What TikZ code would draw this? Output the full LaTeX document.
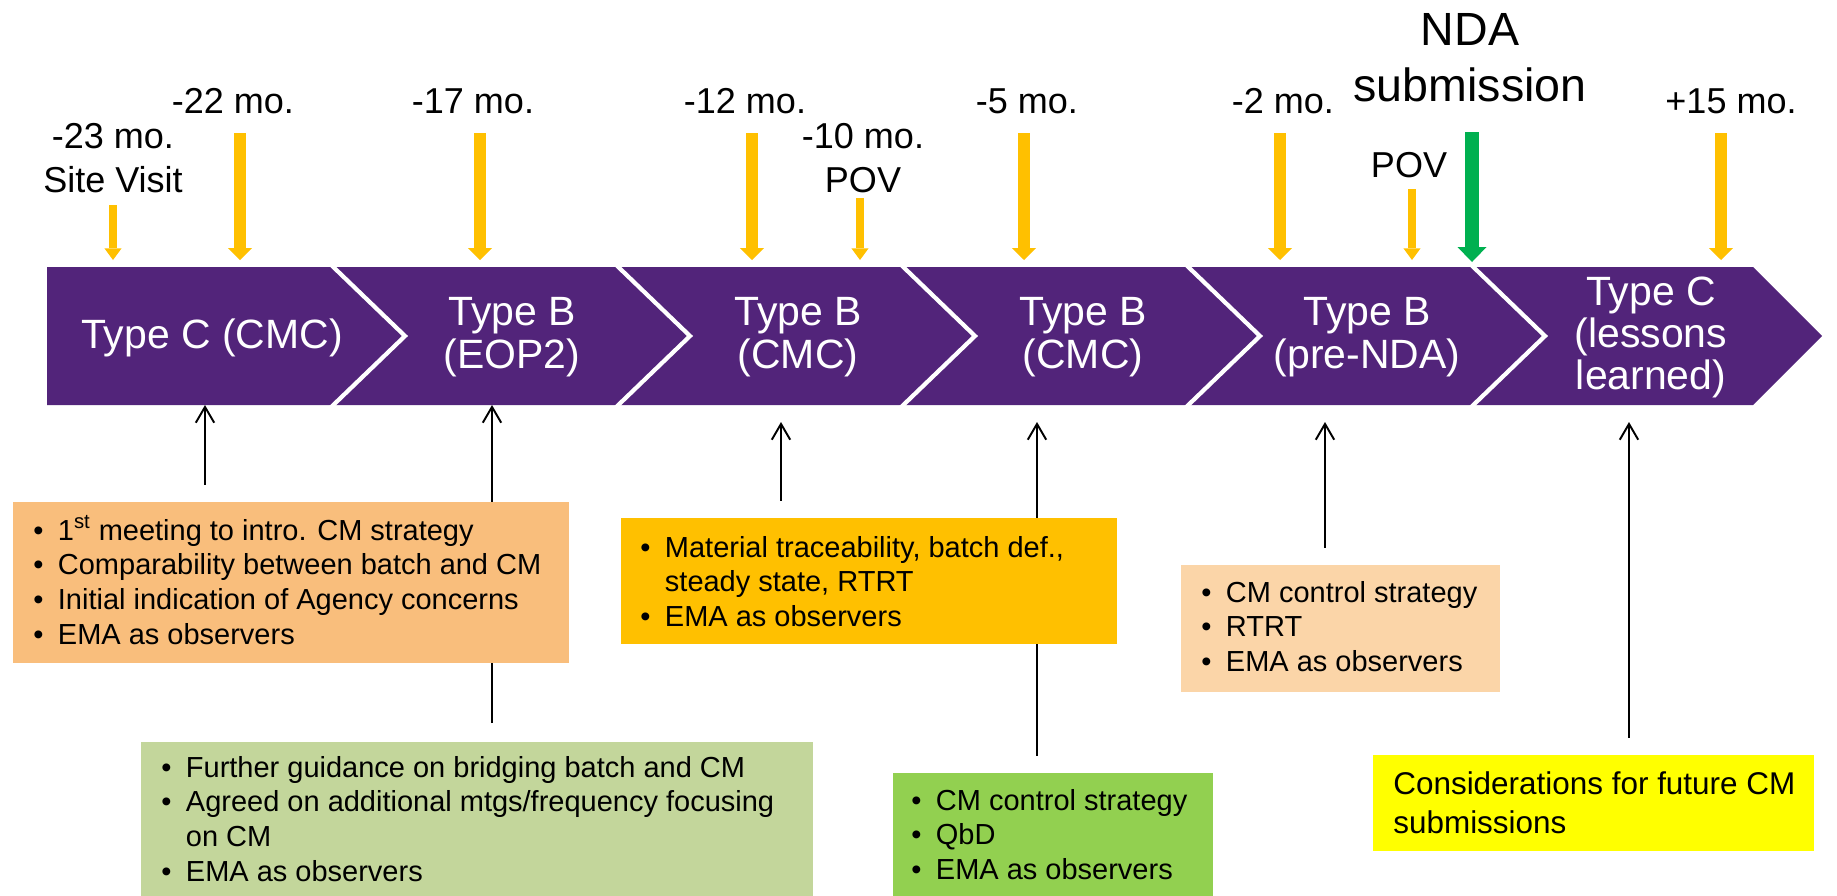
\documentclass[tikz,border=0pt]{standalone}
\usepackage{fontspec}
\setmainfont{Liberation Sans}
\usetikzlibrary{arrows.meta}

\definecolor{bandpurple}{RGB}{82,36,122}
\definecolor{markgold}{RGB}{255,192,0}
\definecolor{ndagreen}{RGB}{0,176,80}
\definecolor{boxorange}{RGB}{249,190,124}
\definecolor{boxolive}{RGB}{195,214,155}
\definecolor{boxgold}{RGB}{255,192,0}
\definecolor{boxgreen}{RGB}{146,208,80}
\definecolor{boxpeach}{RGB}{251,213,168}
\definecolor{boxyellow}{RGB}{255,255,0}

\newcommand\boxfont{\fontsize{16.5}{19.9}\selectfont}
\newcommand\bigboxfont{\fontsize{17.9}{22.2}\selectfont}
\newcommand\monthfont{\fontsize{20.5}{25.6}\selectfont}
\newcommand\segfont{\fontsize{23.3}{24.5}\selectfont}
\newcommand\ndafont{\fontsize{26.5}{32.4}\selectfont}
\newcommand\bl{\makebox[14pt][l]{\textbullet}}

\pgfdeclarelayer{bg}
\pgfsetlayers{bg,main}

\begin{document}
\begin{tikzpicture}[x=0.02cm, y=-0.02cm,
  tickbig/.style={draw=markgold, line width=6.8pt,
    -{Triangle[width=13.7pt,length=6.8pt,line width=0pt]}},
  ticksmall/.style={draw=markgold, line width=5pt,
    -{Triangle[width=9.7pt,length=6.6pt,line width=0pt]}},
  ticknda/.style={draw=ndagreen, line width=8pt,
    -{Triangle[width=16.5pt,length=8.5pt,line width=0pt]}},
  conn/.style={draw=black, line width=1.1pt,
    -{Straight Barb[width=10.5pt,length=9pt]}, shorten <=9.7pt},
  infobox/.style={anchor=north west, inner sep=0, outer sep=0, draw=none},
  boxtxt/.style={anchor=base west, inner sep=0, font=\boxfont},
  monthlbl/.style={anchor=base, inner sep=0, font=\monthfont},
  seglbl/.style={anchor=base, inner sep=0, text=white, font=\segfont},
  sepline/.style={draw=white, line width=2.4pt, line join=miter},
]
\useasboundingbox (0,0) rectangle (1837,896);

% ---- chevron band ----
\fill[bandpurple] (47,267) -- (1753,267) -- (1822,336) -- (1753,405) -- (47,405) -- cycle;
\begin{scope}
  \clip (47,267) rectangle (1822,405);
  \foreach \n in {333,618,903,1188,1473}
    \draw[sepline] (\n-8,259) -- (\n+72,336) -- (\n-8,413);
\end{scope}

% ---- meeting labels in the band ----
\node[seglbl] (s1) at (212,348) {Type C (CMC)};
\node[seglbl] (s2) at (512,325) {\begin{tabular}[t]{@{}c@{}}Type B\\(EOP2)\end{tabular}};
\node[seglbl] (s3) at (798,325) {\begin{tabular}[t]{@{}c@{}}Type B\\(CMC)\end{tabular}};
\node[seglbl] (s4) at (1083,325) {\begin{tabular}[t]{@{}c@{}}Type B\\(CMC)\end{tabular}};
\node[seglbl] (s5) at (1367,325) {\begin{tabular}[t]{@{}c@{}}Type B\\(pre-NDA)\end{tabular}};
\node[seglbl, font=\fontsize{23.3}{23.6}\selectfont] (s6) at (1651,305)
  {\begin{tabular}[t]{@{}c@{}}Type C\\(lessons\\learned)\end{tabular}};

% ---- time labels above the band ----
\node[monthlbl] (m23) at (113,148) {\begin{tabular}[t]{@{}c@{}}-23 mo.\\Site Visit\end{tabular}};
\node[monthlbl] (m22) at (233,113) {-22 mo.};
\node[monthlbl] (m17) at (473,113) {-17 mo.};
\node[monthlbl] (m12) at (745,113) {-12 mo.};
\node[monthlbl] (m10) at (863,148) {\begin{tabular}[t]{@{}c@{}}-10 mo.\\POV\end{tabular}};
\node[monthlbl] (m5) at (1027,113) {-5 mo.};
\node[monthlbl] (m2) at (1283,113) {-2 mo.};
\node[monthlbl] (pov) at (1409,177) {POV};
\node[anchor=base, inner sep=0, font=\ndafont] (nda) at (1470,45)
  {\begin{tabular}[t]{@{}c@{}}NDA\\submission\end{tabular}};
\node[monthlbl] (p15) at (1731,113) {+15 mo.};

% ---- time markers ----
\coordinate (k23t) at (113,205);  \coordinate (k23b) at (113,260);
\coordinate (k22t) at (240,133);  \coordinate (k22b) at (240,260);
\coordinate (k17t) at (480,133);  \coordinate (k17b) at (480,260);
\coordinate (k12t) at (752,133);  \coordinate (k12b) at (752,260);
\coordinate (k10t) at (860,198);  \coordinate (k10b) at (860,260);
\coordinate (k5t)  at (1024,133); \coordinate (k5b)  at (1024,260);
\coordinate (k2t)  at (1280,133); \coordinate (k2b)  at (1280,260);
\coordinate (kpt)  at (1412,189); \coordinate (kpb)  at (1412,260);
\coordinate (knt)  at (1472,132); \coordinate (knb)  at (1472,262);
\coordinate (k15t) at (1721,133); \coordinate (k15b) at (1721,260);
\draw[ticksmall] (k23t) -- (k23b);
\draw[tickbig] (k22t) -- (k22b);
\draw[tickbig] (k17t) -- (k17b);
\draw[tickbig] (k12t) -- (k12b);
\draw[ticksmall] (k10t) -- (k10b);
\draw[tickbig] (k5t) -- (k5b);
\draw[tickbig] (k2t) -- (k2b);
\draw[ticksmall] (kpt) -- (kpb);
\draw[ticknda] (knt) -- (knb);
\draw[tickbig] (k15t) -- (k15b);

% ---- discussion boxes ----
\node[infobox, fill=boxorange, minimum width=11.12cm, minimum height=3.22cm] (b1) at (13,502) {};
\node[infobox, fill=boxolive, minimum width=13.44cm, minimum height=3.2cm] (b2) at (141,742) {};
\node[infobox, fill=boxgold, minimum width=9.92cm, minimum height=2.52cm] (b3) at (621,518) {};
\node[infobox, fill=boxgreen, minimum width=6.4cm, minimum height=2.58cm] (b4) at (893,773) {};
\node[infobox, fill=boxpeach, minimum width=6.38cm, minimum height=2.54cm] (b5) at (1181,565) {};
\node[infobox, fill=boxyellow, minimum width=8.82cm, minimum height=1.92cm] (b6) at (1373,755) {};

\node[boxtxt] (t1) at (33,540) {\begin{tabular}[t]{@{}l@{}}
  \bl 1\textsuperscript{st} meeting to intro. CM strategy\\
  \bl Comparability between batch and CM\\
  \bl Initial indication of Agency concerns\\
  \bl EMA as observers\end{tabular}};
\node[boxtxt] (t2) at (161,777) {\begin{tabular}[t]{@{}l@{}}
  \bl Further guidance on bridging batch and CM\\
  \bl Agreed on additional mtgs/frequency focusing\\
  \hspace*{14pt}on CM\\
  \bl EMA as observers\end{tabular}};
\node[boxtxt] (t3) at (640,557) {\begin{tabular}[t]{@{}l@{}}
  \bl Material traceability, batch def.,\\
  \hspace*{14pt}steady state, RTRT\\
  \bl EMA as observers\end{tabular}};
\node[boxtxt] (t4) at (911,810) {\begin{tabular}[t]{@{}l@{}}
  \bl CM control strategy\\
  \bl QbD\\
  \bl EMA as observers\end{tabular}};
\node[boxtxt] (t5) at (1201,602) {\begin{tabular}[t]{@{}l@{}}
  \bl CM control strategy\\
  \bl RTRT\\
  \bl EMA as observers\end{tabular}};
\node[boxtxt, font=\bigboxfont] (t6) at (1393,794) {\begin{tabular}[t]{@{}l@{}}
  Considerations for future CM\\
  submissions\end{tabular}};

% ---- connectors from boxes up to the band ----
\coordinate (c1) at (205,405);
\coordinate (c2) at (492,405);
\coordinate (c3) at (781,422);
\coordinate (c4) at (1037,422);
\coordinate (c5) at (1325,422);
\coordinate (c6) at (1629,422);
\begin{pgfonlayer}{bg}
  \draw[conn] (c1 |- b1.north) -- (c1);
  \draw[conn, shorten <=10.8pt] (c2 |- b2.north) -- (c2);
  \draw[conn] (c3 |- b3.north) -- (c3);
  \draw[conn] (c4 |- b4.north) -- (c4);
  \draw[conn] (c5 |- b5.north) -- (c5);
  \draw[conn] (c6 |- b6.north) -- (c6);
\end{pgfonlayer}
\end{tikzpicture}
\end{document}
